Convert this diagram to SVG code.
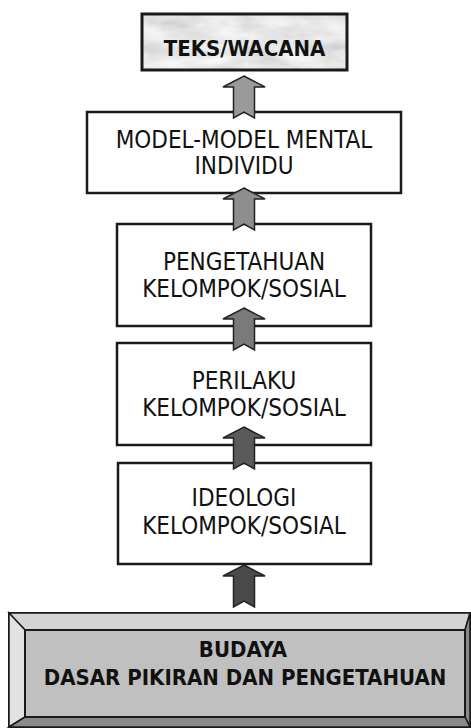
<svg xmlns="http://www.w3.org/2000/svg" xmlns:xlink="http://www.w3.org/1999/xlink" width="471" height="728" viewBox="0 0 471 728">
<style>
.box{fill:#ffffff;stroke:#1a1a1a;stroke-width:2.5}
.t{font-family:"DejaVu Sans Condensed","DejaVu Sans",sans-serif;font-size:24px;fill:#111;text-anchor:middle}
.b{font-family:"DejaVu Sans Condensed","DejaVu Sans",sans-serif;font-size:22px;font-weight:bold;fill:#111;text-anchor:middle}
.arr{stroke:#222;stroke-width:1.5;stroke-linejoin:miter}
</style>
<defs>
<filter id="marble" x="0" y="0" width="1" height="1">
<feTurbulence type="fractalNoise" baseFrequency="0.025 0.07" numOctaves="4" seed="5" result="n"/>
<feColorMatrix in="n" type="matrix" values="0.4 0 0 0 0.6  0.4 0 0 0 0.6  0.4 0 0 0 0.6  0 0 0 0 1" result="g"/>
<feComposite in="g" in2="SourceGraphic" operator="in"/>
</filter>
<path id="arrow" d="M0,0 L21,11 L10.5,11 L10.5,42 L0,36 L-10.5,42 L-10.5,11 L-21,11 Z"/>
</defs>
<g id="teks">
<rect x="142" y="14" width="205" height="56" fill="#dcdcdc"/>
<rect x="142" y="14" width="205" height="56" fill="#000" filter="url(#marble)"/>
<rect x="142" y="14" width="205" height="56" fill="none" stroke="#1a1a1a" stroke-width="3"/>
<text class="b" x="244.5" y="56">TEKS/WACANA</text>
</g>
<g id="model">
<rect class="box" x="87" y="112" width="314" height="81"/>
<text class="t" x="244" y="148">MODEL-MODEL MENTAL</text>
<text class="t" x="244" y="174">INDIVIDU</text>
</g>
<g id="pengetahuan">
<rect class="box" x="117" y="224" width="254" height="102"/>
<text class="t" x="244" y="270">PENGETAHUAN</text>
<text class="t" x="244" y="297">KELOMPOK/SOSIAL</text>
</g>
<g id="perilaku">
<rect class="box" x="117" y="343" width="254" height="102"/>
<text class="t" x="244" y="389">PERILAKU</text>
<text class="t" x="244" y="416">KELOMPOK/SOSIAL</text>
</g>
<g id="ideologi">
<rect class="box" x="118" y="463" width="253" height="101"/>
<text class="t" x="244" y="506">IDEOLOGI</text>
<text class="t" x="244" y="534">KELOMPOK/SOSIAL</text>
</g>
<g id="budaya">
<rect x="9" y="613" width="461" height="114" fill="#c0c0c0" stroke="#1a1a1a" stroke-width="2"/>
<polygon points="9,613 470,613 465,630 25,630" fill="#d4d4d4" stroke="#1a1a1a" stroke-width="1.5"/>
<polygon points="9,613 25,630 25,717 9,727" fill="#e2e2e2" stroke="#1a1a1a" stroke-width="1.5"/>
<polygon points="470,613 470,727 465,717 465,630" fill="#8a8a8a" stroke="#1a1a1a" stroke-width="1.5"/>
<polygon points="9,727 25,717 465,717 470,727" fill="#8a8a8a" stroke="#1a1a1a" stroke-width="1.5"/>
<rect x="25" y="630" width="440" height="87" fill="#c0c0c0" stroke="#1a1a1a" stroke-width="2"/>
<text class="b" x="243" y="657">BUDAYA</text>
<text class="b" x="245" y="685">DASAR PIKIRAN DAN PENGETAHUAN</text>
</g>
<g id="connectors">
<use xlink:href="#arrow" class="arr" transform="translate(244,76)" fill="#9a9a9a"/>
<use xlink:href="#arrow" class="arr" transform="translate(244,188)" fill="#8e8e8e"/>
<use xlink:href="#arrow" class="arr" transform="translate(244,308)" fill="#7a7a7a"/>
<use xlink:href="#arrow" class="arr" transform="translate(244,427)" fill="#5a5a5a"/>
<use xlink:href="#arrow" class="arr" transform="translate(244,565)" fill="#4a4a4a"/>
</g>
</svg>
